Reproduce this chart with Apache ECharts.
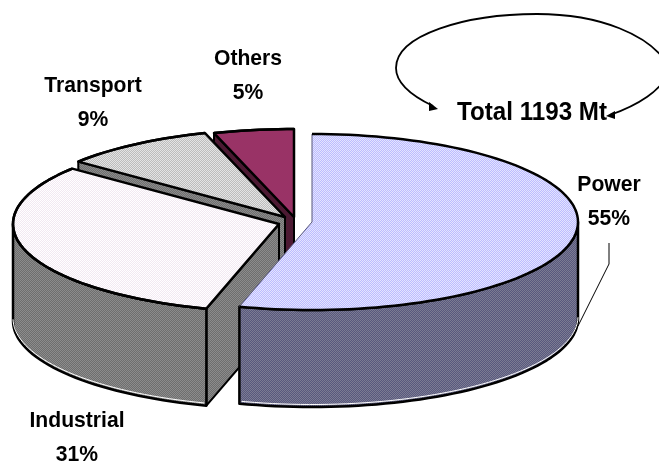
<!DOCTYPE html>
<html>
<head>
<meta charset="utf-8">
<title>Total 1193 Mt</title>
<style>
    html, body { margin: 0; padding: 0; background: #fff; }
    #chart { width: 659px; height: 464px; }
</style>
<script src="https://cdn.jsdelivr.net/npm/echarts@6/dist/echarts.min.js"></script>
</head>
<body>
<div id="chart"></div>
<script>
// Data
// ------------------------------

var categories = ['Power', 'Industrial', 'Transport', 'Others'];
var valuesMt = [649, 375, 111, 58];
var percentLabels = ['55%', '31%', '9%', '5%'];
var totalLabel = 'Total 1193 Mt';


// Layout and styles
// ------------------------------

var RX = 266, RY = 88, DEPTH = 97;
var sliceCentres = [[312, 222], [279, 224], [285, 217], [294, 217]];
var labelCentres = [[609, 202], [77, 437.5], [93, 102.5], [248, 75.5]];
var topColors = [['#bcbcff', '#e4e4ff'], ['#f2e8f2', '#ffffff'], ['#bcbcbc', '#e4e4e4'], ['#993366', '#993366']];
var sideColors = [['#58587e', '#7c7c92'], ['#6e6e6e', '#8c8c8c'], ['#6e6e6e', '#8c8c8c'], ['#4d1a33', '#4d1a33']];
var radialStroke = ['#55557a', '#000', '#000', '#000'];
var radialWidth = [1, 2.5, 2.5, 2.5];
var LABEL_FONT = 'bold 22px "Liberation Sans", Arial, sans-serif';
var TOTAL_FONT = 'bold 26px "Liberation Sans", Arial, sans-serif';


// Helpers
// ------------------------------

// The fills of the original are all stippled, a soft 2x2 checker stands in for it
function dither(pair) {
    var c = document.createElement('canvas');
    c.width = c.height = 2;
    var ctx = c.getContext('2d');
    ctx.fillStyle = pair[0];
    ctx.fillRect(0, 0, 2, 2);
    ctx.fillStyle = pair[1];
    ctx.fillRect(0, 0, 1, 1);
    ctx.fillRect(1, 1, 1, 1);
    return { image: c, repeat: 'repeat' };
}

var total = valuesMt.reduce(function(a, b) { return a + b; }, 0);

function rimPoint(c, deg, dy) {
    var r = deg * Math.PI / 180;
    return [c[0] + RX * Math.sin(r), c[1] - RY * Math.cos(r) + (dy || 0)];
}

function arcPoints(c, from, to, dy) {
    var pts = [];
    for (var a = from; a < to; a += 2) {
        pts.push(rimPoint(c, a, dy));
    }
    pts.push(rimPoint(c, to, dy));
    return pts;
}


// Slices
// ------------------------------

function renderSlice(params, api) {
    var i = params.dataIndex;
    var c = sliceCentres[i];
    var before = 0;
    for (var k = 0; k < i; k++) {
        before += valuesMt[k];
    }
    var start = before / total * 360;
    var end = (before + api.value(0)) / total * 360;
    var z = (categories.length - i) * 10;
    var sideFill = dither(sideColors[i]);
    var children = [];

    // Cut face at the start of the slice, when it turns to the viewer
    if (Math.cos((start - 270) * Math.PI / 180) > 1e-6) {
        var p = rimPoint(c, start);
        children.push({
            type: 'polygon',
            z2: z,
            shape: { points: [c, p, [p[0], p[1] + DEPTH], [c[0], c[1] + DEPTH]] },
            style: { fill: sideFill, stroke: '#000', lineWidth: 2, lineJoin: 'round' }
        });
    }

    // Outer wall, only the front half of the rim shows
    var from = Math.max(start, 90), to = Math.min(end, 270);
    if (from < to) {
        var upper = arcPoints(c, from, to, 0);
        var lower = arcPoints(c, from, to, DEPTH);
        children.push({
            type: 'polygon',
            z2: z + 1,
            shape: { points: upper.concat(lower.slice().reverse()) },
            style: { fill: sideFill, stroke: '#000', lineWidth: 2.5, lineJoin: 'round' }
        });
        children.push({
            type: 'polyline',
            z2: z + 2,
            shape: { points: arcPoints(c, from + 0.5, to - 0.5, DEPTH - 2.5) },
            style: { fill: null, stroke: '#fff', lineWidth: 1 }
        });
    }

    // Top surface
    var rim = arcPoints(c, start, end, 0);
    children.push({
        type: 'polygon',
        z2: z + 3,
        shape: { points: [c].concat(rim) },
        style: { fill: dither(topColors[i]), stroke: radialStroke[i], lineWidth: radialWidth[i], lineJoin: 'round' }
    });
    children.push({
        type: 'polyline',
        z2: z + 4,
        shape: { points: rim },
        style: { fill: null, stroke: '#000', lineWidth: 2.5, lineJoin: 'round' }
    });

    // Label
    var lc = labelCentres[i];
    children.push({
        type: 'text',
        x: lc[0],
        y: lc[1],
        scaleX: 0.96,
        z2: 100,
        style: {
            text: categories[i] + '\n' + percentLabels[i],
            fill: '#000',
            font: LABEL_FONT,
            lineHeight: 34,
            align: 'center',
            verticalAlign: 'middle'
        }
    });

    return { type: 'group', children: children };
}


// Chart
// ------------------------------

var chart = echarts.init(document.getElementById('chart'));

var curveStyle = { stroke: '#000', lineWidth: 1.8, fill: null };

chart.setOption({
    animation: false,
    backgroundColor: '#fff',
    series: [{
        type: 'custom',
        coordinateSystem: 'none',
        silent: true,
        data: valuesMt.map(function(v, idx) { return { name: categories[idx], value: [v] }; }),
        renderItem: renderSlice
    }],
    graphic: [
        // Leader line from Power
        { type: 'polyline', shape: { points: [[609, 243], [609, 264], [578, 326]] }, style: { stroke: '#000', lineWidth: 1, fill: null } },

        // Loop around the total
        { type: 'bezierCurve', shape: { x1: 433, y1: 106, cpx1: 410, cpy1: 95, cpx2: 396, cpy2: 82, x2: 396, y2: 68 }, style: curveStyle },
        { type: 'bezierCurve', shape: { x1: 396, y1: 68, cpx1: 396, cpy1: 35, cpx2: 465, cpy2: 14, x2: 537, y2: 14 }, style: curveStyle },
        { type: 'bezierCurve', shape: { x1: 537, y1: 14, cpx1: 600, cpy1: 14, cpx2: 650, cpy2: 35, x2: 668, y2: 65 }, style: curveStyle },
        { type: 'bezierCurve', shape: { x1: 668, y1: 65, cpx1: 670, cpy1: 90, cpx2: 630, cpy2: 108, x2: 610, y2: 115 }, style: curveStyle },
        { type: 'polygon', shape: { points: [[438, 109], [429, 102], [429, 111]] }, style: { fill: '#000' } },
        { type: 'polygon', shape: { points: [[606, 116], [615, 111], [615, 119]] }, style: { fill: '#000' } },

        {
            type: 'text',
            x: 532,
            y: 113,
            scaleX: 0.93,
            style: {
                text: totalLabel,
                fill: '#000',
                font: TOTAL_FONT,
                align: 'center',
                verticalAlign: 'middle'
            }
        }
    ]
});
</script>
</body>
</html>
